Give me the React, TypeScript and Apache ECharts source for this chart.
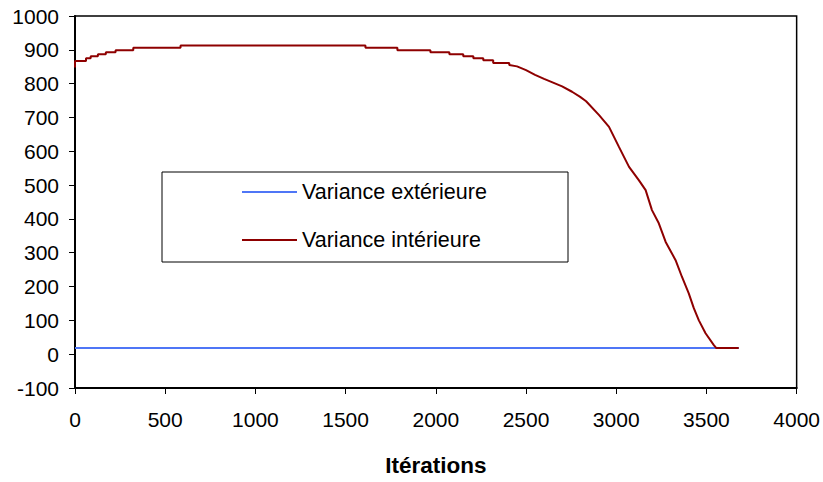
import React, { useEffect, useRef } from "react";
import * as echarts from "echarts";

const seriesNames = ["Variance extérieure", "Variance intérieure"];
const xTicks = { min: 0, max: 4000, interval: 500 };
const yTicks = { min: -100, max: 1000, interval: 100 };

const exteriorX = [0, 3679];
const exteriorY = [18, 18];

const interiorX = [
  0, 0, 61, 61, 87, 87, 127, 127, 171, 171, 225, 225, 323, 323, 585, 585, 1610, 1610,
  1787, 1787, 1970, 1970, 2075, 2075, 2152, 2152, 2208, 2208, 2263, 2263, 2318, 2318,
  2407, 2407, 2450, 2500, 2550, 2600, 2650, 2700, 2755, 2800, 2833, 2905, 2960, 3015, 3071, 3126,
  3163, 3198, 3236, 3274, 3329, 3364, 3402, 3430, 3458, 3495, 3541, 3555, 3679,
];
const interiorY = [
  848, 867, 867, 875, 875, 881, 881, 887, 887, 893, 893, 899, 899, 906, 906, 913, 913, 906,
  906, 899, 899, 893, 893, 887, 887, 881, 881, 875, 875, 869, 869, 861,
  861, 855, 851, 840, 826, 814, 803, 792, 776, 761, 748, 707, 672, 613, 554, 514,
  485, 426, 387, 332, 278, 229, 180, 136, 100, 62, 27, 18, 18,
];

const FONT = "'Liberation Sans', Arial, sans-serif";

export default function App() {
  const ref = useRef<HTMLDivElement>(null);
  useEffect(() => {
    if (!ref.current) return;
    const chart = echarts.init(ref.current, undefined, { renderer: "svg" });
    chart.setOption({
      animation: false,
      backgroundColor: "#ffffff",
      textStyle: { fontFamily: FONT },
      grid: {
        left: 75,
        right: 25,
        top: 16,
        bottom: 94,
        show: true,
        borderColor: "#000",
        borderWidth: 1.5,
        backgroundColor: "transparent",
      },
      graphic: [
        {
          type: "rect",
          shape: { x: 162, y: 172, width: 406, height: 90 },
          style: { fill: "#fff", stroke: "#000", lineWidth: 1 },
          z: 1,
        },
      ],
      legend: {
        orient: "vertical",
        left: 242,
        top: 181,
        icon: "rect",
        itemWidth: 55,
        itemHeight: 2,
        itemGap: 26,
        padding: 0,
        z: 5,
        textStyle: { fontSize: 21.5, color: "#000", fontFamily: FONT },
        data: seriesNames,
      },
      xAxis: {
        type: "value",
        min: xTicks.min,
        max: xTicks.max,
        interval: xTicks.interval,
        name: "Itérations",
        nameLocation: "middle",
        nameGap: 66,
        nameTextStyle: { fontSize: 22.5, fontWeight: "bold", color: "#000", fontFamily: FONT },
        axisLine: { show: true, onZero: false, lineStyle: { color: "#000", width: 2 } },
        axisTick: { show: true, length: 6, lineStyle: { color: "#000", width: 1 } },
        axisLabel: {
          fontSize: 21,
          color: "#000",
          margin: 21,
          fontFamily: FONT,
          formatter: (v: number) => String(v),
        },
        splitLine: { show: false },
      },
      yAxis: {
        type: "value",
        min: yTicks.min,
        max: yTicks.max,
        interval: yTicks.interval,
        axisLine: { show: true, onZero: false, lineStyle: { color: "#000", width: 2 } },
        axisTick: { show: true, length: 6, lineStyle: { color: "#000", width: 1 } },
        axisLabel: {
          fontSize: 21,
          color: "#000",
          margin: 16,
          fontFamily: FONT,
          formatter: (v: number) => String(v),
        },
        splitLine: { show: false },
      },
      series: [
        {
          name: seriesNames[0],
          type: "line",
          symbol: "none",
          color: "#4f76f6",
          lineStyle: { width: 2, color: "#4f76f6" },
          data: exteriorX.map((x, i) => [x, exteriorY[i]]),
          z: 2,
        },
        {
          name: seriesNames[1],
          type: "line",
          symbol: "none",
          color: "#8e0000",
          lineStyle: { width: 2, color: "#8e0000" },
          data: interiorX.map((x, i) => [x, interiorY[i]]),
          z: 3,
        },
      ],
    });
    return () => chart.dispose();
  }, []);
  return (
    <div
      ref={ref}
      style={{ position: "fixed", left: 0, top: 0, width: 823, height: 482 }}
    />
  );
}
